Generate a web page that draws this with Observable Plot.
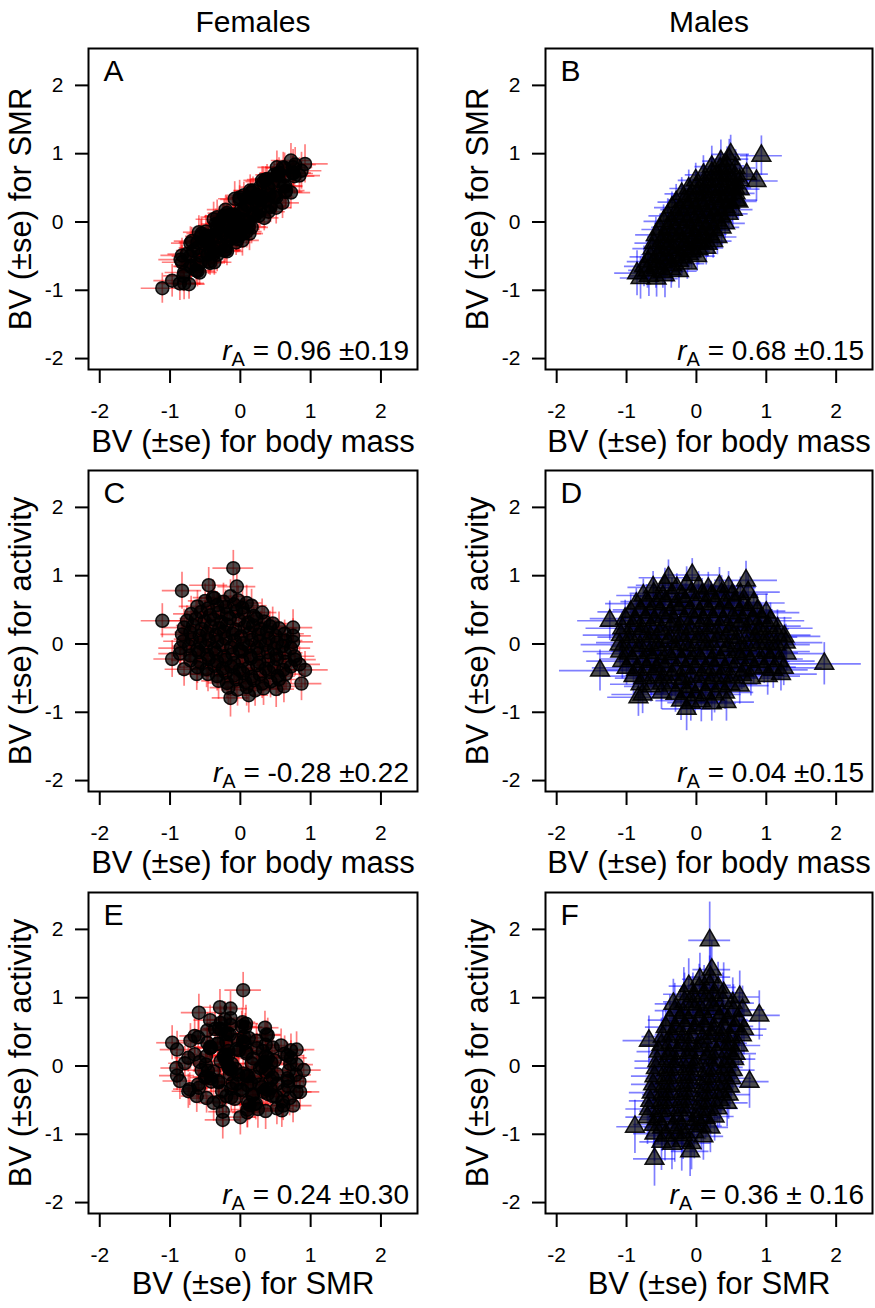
<!DOCTYPE html>
<html><head><meta charset="utf-8">
<script src="https://cdn.jsdelivr.net/npm/d3@7"></script>
<script src="https://cdn.jsdelivr.net/npm/@observablehq/plot@0.6"></script>
<style>
html,body{margin:0;padding:0;background:#fff;}
#wrap{position:relative;width:875px;height:1308px;overflow:hidden;background:#fff;}
#wrap svg{position:absolute;overflow:visible;}
</style></head><body><div id="wrap"></div>
<script>
// ---------- axis ticks & texts ----------
const xTicks = [-2, -1, 0, 1, 2];
const yTicks = [-2, -1, 0, 1, 2];
const tickLabels = ["-2", "-1", "0", "1", "2"];
const columnTitles = ["Females", "Males"];
const panelLetters = ["A", "B", "C", "D", "E", "F"];
const xTitles = ["BV (±se) for body mass", "BV (±se) for body mass", "BV (±se) for body mass", "BV (±se) for body mass", "BV (±se) for SMR", "BV (±se) for SMR"];
const yTitles = ["BV (±se) for SMR", "BV (±se) for SMR", "BV (±se) for activity", "BV (±se) for activity", "BV (±se) for activity", "BV (±se) for activity"];
const rAValues = ["= 0.96 ±0.19", "= 0.68 ±0.15", "= -0.28 ±0.22", "= 0.04 ±0.15", "= 0.24 ±0.30", "= 0.36 ± 0.16"];

// ---------- Females: breeding values (same individuals in A, C, E) ----------
const femMass = [
-0.50,-0.37,-0.24,-0.14,-0.03,0.09,
-0.61,-0.46,-0.33,-0.21,-0.09,0.03,0.16,
-0.70,-0.56,-0.43,-0.31,-0.19,-0.06,0.05,0.19,0.31,
-0.76,-0.63,-0.51,-0.38,-0.27,-0.15,-0.02,0.11,0.23,0.34,0.46,
-0.80,-0.67,-0.55,-0.42,-0.30,-0.19,-0.07,0.06,0.18,0.29,0.42,0.55,
-0.83,-0.71,-0.58,-0.47,-0.35,-0.23,-0.11,0.01,0.13,0.26,0.38,0.50,0.63,
-0.81,-0.69,-0.57,-0.45,-0.33,-0.21,-0.08,0.04,0.16,0.28,0.40,0.52,0.64,0.75,
-0.85,-0.73,-0.61,-0.49,-0.37,-0.25,-0.13,-0.01,0.12,0.24,0.36,0.48,0.60,0.72,
-0.86,-0.71,-0.59,-0.47,-0.35,-0.23,-0.11,0.02,0.14,0.26,0.39,0.51,0.63,0.77,
-0.71,-0.57,-0.45,-0.33,-0.21,-0.09,0.03,0.15,0.27,0.40,0.52,0.64,0.78,
-0.61,-0.48,-0.37,-0.25,-0.13,-0.01,0.11,0.24,0.36,0.48,0.61,0.72,
-0.46,-0.33,-0.21,-0.09,0.04,0.16,0.28,0.41,0.53,0.65,
-0.31,-0.19,-0.06,0.07,0.19,0.31,0.43,0.55,
-0.17,-0.04,0.09,0.21,0.33,
-1.11,-0.83,-0.45,-0.10,-0.97,-0.80,-0.62,-0.14,0.12,0.87,0.92,0.75,0.62,0.75,-0.39,-0.05,0.51,0.84];
const femSMR = [
-0.28,-0.43,0.08,-0.14,0.03,-0.14,
-0.30,-0.47,0.07,-0.36,0.02,-0.27,0.35,
-0.65,-0.21,-0.60,-0.15,0.05,-0.18,0.39,0.12,0.37,
-0.47,-0.71,-0.32,0.04,-0.33,-0.04,-0.20,0.36,0.23,0.06,0.58,
-0.90,-0.42,-0.17,-0.43,-0.02,-0.43,0.08,-0.05,0.46,0.32,0.24,0.72,
-0.49,-0.65,-0.74,-0.21,-0.23,0.09,-0.23,0.18,-0.17,0.36,0.63,0.39,0.67,
-0.79,-0.28,-0.49,-0.58,-0.12,-0.21,0.34,-0.17,0.36,0.16,0.49,0.80,0.44,0.71,
-0.55,-0.91,-0.38,-0.14,-0.46,-0.17,-0.14,0.36,-0.07,0.40,0.31,0.69,0.28,0.90,
-0.90,-0.50,-0.15,-0.48,-0.03,-0.42,0.11,0.04,0.46,0.09,0.52,0.21,0.79,0.67,
-0.31,-0.60,-0.31,-0.05,-0.41,0.10,-0.11,0.43,0.27,0.15,0.68,0.53,0.84,
-0.72,-0.26,-0.59,0.03,-0.13,0.33,0.00,0.31,0.62,0.37,0.80,0.43,
-0.20,-0.48,0.18,-0.13,0.17,-0.08,0.51,0.39,0.70,0.46,
-0.38,0.13,-0.30,0.20,0.11,0.61,0.22,0.60,
0.10,-0.25,0.25,0.10,0.59,
-0.97,-0.59,-0.29,0.04,-0.86,-0.74,-0.62,-0.25,0.00,0.75,0.85,0.80,0.52,0.72,-0.22,-0.14,0.36,0.68];
const femAct = [
0.63,0.67,0.62,0.70,0.64,0.60,
0.55,0.52,0.57,0.54,0.58,0.53,0.56,
0.44,0.47,0.42,0.46,0.43,0.48,0.45,0.41,0.46,
0.34,0.37,0.33,0.36,0.32,0.38,0.35,0.31,0.37,0.33,0.30,
0.24,0.27,0.22,0.26,0.23,0.28,0.21,0.25,0.27,0.22,0.26,0.23,
0.14,0.17,0.12,0.16,0.13,0.18,0.15,0.11,0.16,0.14,0.18,0.12,0.15,
0.04,0.07,0.02,0.06,0.03,0.08,0.05,0.01,0.06,0.04,0.08,0.02,0.05,0.03,
-0.06,-0.03,-0.08,-0.04,-0.07,-0.02,-0.05,-0.09,-0.04,-0.06,-0.01,-0.07,-0.03,-0.06,
-0.14,-0.17,-0.12,-0.16,-0.13,-0.18,-0.15,-0.11,-0.17,-0.14,-0.12,-0.16,-0.13,-0.18,
-0.24,-0.27,-0.22,-0.26,-0.23,-0.28,-0.25,-0.21,-0.27,-0.24,-0.22,-0.26,-0.23,
-0.34,-0.37,-0.32,-0.36,-0.33,-0.38,-0.35,-0.31,-0.36,-0.34,-0.38,-0.33,
-0.44,-0.47,-0.42,-0.46,-0.43,-0.48,-0.45,-0.41,-0.47,-0.44,
-0.54,-0.57,-0.52,-0.56,-0.53,-0.58,-0.55,-0.52,
-0.64,-0.67,-0.63,-0.68,-0.65,
0.34,0.78,0.86,1.11,-0.22,-0.37,-0.44,-0.79,-0.75,-0.58,-0.38,0.24,-0.62,0.12,0.68,0.84,-0.66,-0.30];
const femMassSE = [
.24,.21,.27,.19,.25,.22,
.26,.20,.23,.28,.18,.24,.22,
.25,.22,.19,.27,.23,.20,.26,.24,.21,
.27,.23,.20,.25,.22,.28,.19,.24,.26,.21,.23,
.29,.24,.21,.26,.19,.23,.25,.20,.27,.22,.24,.26,
.30,.22,.25,.19,.24,.27,.21,.23,.20,.26,.22,.25,.28,
.28,.25,.21,.24,.27,.19,.23,.26,.20,.24,.22,.27,.25,.29,
.31,.23,.26,.20,.24,.22,.27,.19,.25,.21,.23,.26,.24,.28,
.30,.26,.22,.25,.20,.24,.21,.27,.23,.19,.25,.22,.26,.29,
.27,.24,.21,.26,.23,.20,.25,.22,.27,.24,.21,.25,.30,
.26,.22,.25,.20,.24,.27,.21,.23,.26,.22,.25,.28,
.25,.21,.26,.23,.20,.24,.27,.22,.25,.27,
.24,.27,.21,.25,.22,.26,.23,.26,
.26,.23,.27,.22,.25,
.30,.28,.27,.29,.26,.27,.25,.26,.28,.29,.33,.28,.27,.26,.28,.27,.26,.30];
const femSMRSE = [
.20,.23,.18,.22,.19,.24,
.22,.19,.25,.18,.21,.23,.20,
.21,.24,.18,.22,.20,.25,.19,.23,.21,
.23,.19,.22,.25,.18,.21,.24,.20,.22,.19,.23,
.24,.20,.22,.18,.25,.21,.19,.23,.20,.24,.21,.22,
.25,.21,.19,.23,.20,.24,.18,.22,.25,.19,.21,.23,.24,
.23,.20,.24,.19,.22,.18,.25,.21,.20,.23,.19,.24,.22,.25,
.26,.22,.19,.24,.21,.23,.18,.25,.20,.22,.24,.19,.23,.25,
.25,.21,.24,.19,.22,.20,.25,.18,.23,.21,.19,.24,.22,.26,
.24,.20,.23,.21,.19,.25,.22,.20,.24,.18,.23,.21,.25,
.23,.21,.19,.24,.22,.20,.25,.21,.19,.23,.22,.24,
.22,.25,.20,.23,.19,.24,.21,.22,.20,.24,
.21,.24,.19,.22,.25,.20,.23,.22,
.23,.20,.24,.21,.22,
.22,.25,.24,.26,.24,.23,.22,.25,.23,.27,.28,.26,.24,.23,.25,.24,.23,.26];
const femActSE = [
.25,.22,.27,.24,.21,.26,
.23,.26,.20,.25,.22,.27,.24,
.26,.21,.24,.27,.19,.23,.25,.22,.20,
.22,.25,.27,.20,.24,.26,.21,.23,.25,.19,.24,
.27,.21,.24,.26,.22,.19,.25,.23,.20,.26,.22,.24,
.24,.26,.21,.23,.27,.20,.24,.22,.25,.21,.26,.23,.20,
.25,.22,.27,.20,.24,.26,.21,.23,.19,.25,.22,.27,.24,.21,
.26,.23,.20,.25,.22,.27,.19,.24,.21,.26,.23,.20,.25,.22,
.22,.27,.24,.19,.26,.21,.25,.23,.20,.24,.27,.22,.25,.23,
.25,.21,.26,.23,.20,.24,.27,.22,.25,.19,.23,.26,.24,
.24,.27,.22,.25,.20,.26,.23,.21,.25,.22,.24,.26,
.26,.22,.25,.21,.27,.23,.20,.24,.26,.23,
.27,.23,.25,.21,.26,.22,.24,.25,
.26,.24,.28,.23,.25,
.25,.27,.26,.26,.27,.25,.24,.28,.26,.25,.27,.26,.24,.25,.26,.25,.27,.26];

// ---------- Males, panel B: body mass (x) vs SMR (y) ----------
const maleBMass = [
-0.68,-0.57,-0.45,
-0.70,-0.58,-0.48,-0.36,-0.25,
-0.69,-0.57,-0.47,-0.35,-0.25,-0.13,
-0.66,-0.55,-0.43,-0.33,-0.21,-0.11,0.01,
-0.63,-0.51,-0.41,-0.29,-0.19,-0.07,0.03,0.14,
-0.61,-0.50,-0.38,-0.28,-0.16,-0.06,0.05,0.16,0.24,
-0.58,-0.46,-0.36,-0.24,-0.14,-0.02,0.08,0.19,0.30,
-0.52,-0.41,-0.29,-0.19,-0.07,0.03,0.14,0.25,0.36,
-0.47,-0.35,-0.25,-0.13,-0.03,0.09,0.19,0.30,0.41,
-0.41,-0.30,-0.18,-0.08,0.04,0.14,0.26,0.36,0.46,
-0.35,-0.23,-0.13,-0.01,0.09,0.21,0.31,0.42,0.52,
-0.29,-0.17,-0.07,0.05,0.15,0.27,0.37,0.48,0.57,
-0.21,-0.09,0.01,0.13,0.23,0.35,0.45,0.56,
-0.11,0.00,0.12,0.22,0.34,0.44,0.55,0.62,
-0.01,0.11,0.21,0.33,0.43,0.54,0.62,
0.10,0.22,0.32,0.44,0.55,
0.22,0.34,0.44,0.56,
0.35,0.47,
0.93,0.86,0.49,-0.85,-0.80,0.72,-0.75,0.60];
const maleBSMR = [
-0.79,-0.83,-0.78,
-0.71,-0.68,-0.73,-0.69,-0.72,
-0.58,-0.62,-0.59,-0.63,-0.57,-0.61,
-0.51,-0.48,-0.53,-0.49,-0.52,-0.47,-0.50,
-0.39,-0.42,-0.38,-0.41,-0.37,-0.43,-0.40,-0.38,
-0.31,-0.28,-0.32,-0.29,-0.33,-0.27,-0.30,-0.32,-0.28,
-0.19,-0.22,-0.18,-0.21,-0.17,-0.23,-0.20,-0.18,-0.22,
-0.11,-0.08,-0.12,-0.09,-0.13,-0.07,-0.10,-0.12,-0.08,
0.01,-0.02,0.03,-0.01,0.02,-0.03,0.00,0.02,-0.02,
0.09,0.12,0.08,0.11,0.07,0.13,0.10,0.08,0.12,
0.21,0.18,0.22,0.19,0.23,0.17,0.20,0.22,0.18,
0.29,0.32,0.28,0.31,0.27,0.33,0.30,0.28,0.32,
0.41,0.38,0.42,0.39,0.43,0.37,0.40,0.42,
0.49,0.52,0.48,0.51,0.47,0.53,0.50,0.48,
0.61,0.58,0.62,0.59,0.63,0.57,0.61,
0.69,0.72,0.68,0.71,0.67,
0.81,0.78,0.82,0.79,
0.89,0.92,
0.97,0.60,0.99,-0.75,-0.82,0.70,-0.65,0.30];
const maleBMassSE = [
.28,.31,.26,
.27,.24,.29,.22,.26,
.30,.25,.23,.27,.21,.25,
.29,.24,.27,.22,.25,.20,.26,
.28,.23,.26,.21,.24,.27,.22,.25,
.27,.22,.25,.28,.21,.24,.26,.23,.27,
.29,.24,.21,.26,.23,.27,.22,.25,.28,
.26,.23,.27,.20,.25,.22,.28,.24,.26,
.28,.25,.22,.26,.21,.24,.27,.23,.29,
.27,.22,.25,.28,.23,.20,.26,.24,.28,
.25,.28,.22,.24,.27,.21,.25,.23,.29,
.26,.23,.27,.21,.25,.22,.28,.24,.30,
.24,.27,.22,.25,.21,.26,.23,.28,
.27,.23,.26,.22,.25,.28,.24,.29,
.25,.22,.27,.24,.26,.23,.30,
.26,.23,.28,.25,.27,
.24,.27,.25,.29,
.26,.28,
.30,.31,.27,.32,.29,.31,.28,.27];
const maleBSMRSE = [
.30,.27,.33,
.26,.29,.24,.28,.25,
.24,.28,.22,.26,.25,.23,
.27,.23,.25,.21,.26,.24,.22,
.25,.22,.27,.24,.20,.26,.23,.25,
.23,.26,.21,.25,.22,.27,.24,.20,.25,
.26,.22,.25,.20,.24,.27,.21,.23,.26,
.22,.25,.23,.27,.21,.24,.26,.22,.25,
.24,.21,.26,.23,.25,.20,.24,.27,.23,
.25,.23,.20,.26,.22,.25,.21,.24,.26,
.23,.26,.24,.21,.25,.22,.27,.23,.25,
.26,.22,.25,.23,.20,.26,.24,.22,.27,
.24,.27,.22,.25,.23,.21,.26,.25,
.27,.23,.26,.24,.21,.25,.28,.24,
.25,.28,.23,.26,.24,.27,.25,
.28,.25,.27,.24,.29,
.30,.26,.28,.27,
.31,.29,
.29,.30,.28,.33,.31,.29,.30,.27];

// ---------- Males, panel D: body mass (x) vs activity (y) ----------
const maleDMass = [
-0.40,-0.06,0.71,
-0.62,-0.45,-0.28,-0.14,0.03,0.17,0.33,0.46,
-0.76,-0.61,-0.48,-0.35,-0.20,-0.07,0.08,0.21,0.36,0.51,0.63,0.74,
-0.86,-0.71,-0.58,-0.45,-0.30,-0.16,-0.03,0.12,0.27,0.40,0.54,0.67,0.82,
-0.94,-0.80,-0.67,-0.52,-0.38,-0.25,-0.10,0.04,0.17,0.32,0.46,0.61,0.74,0.87,1.00,
-1.02,-0.88,-0.73,-0.60,-0.47,-0.32,-0.18,-0.05,0.10,0.23,0.38,0.52,0.65,0.80,0.93,1.06,
-1.06,-0.91,-0.78,-0.65,-0.50,-0.36,-0.23,-0.08,0.06,0.19,0.34,0.48,0.61,0.76,0.90,1.03,1.16,
-1.08,-0.95,-0.80,-0.66,-0.53,-0.38,-0.24,-0.11,0.04,0.17,0.32,0.46,0.59,0.74,0.88,1.01,1.16,1.26,
-1.10,-0.96,-0.81,-0.68,-0.55,-0.40,-0.26,-0.13,0.02,0.15,0.30,0.45,0.58,0.72,0.87,1.00,1.14,1.28,
-1.09,-0.97,-0.82,-0.67,-0.54,-0.41,-0.27,-0.12,0.01,0.16,0.29,0.44,0.59,0.71,0.86,1.01,1.13,1.29,
-1.06,-0.92,-0.77,-0.64,-0.51,-0.36,-0.22,-0.09,0.06,0.21,0.34,0.47,0.62,0.77,0.90,1.05,1.18,
-1.00,-0.86,-0.71,-0.58,-0.45,-0.30,-0.16,-0.02,0.12,0.25,0.40,0.55,0.68,0.82,0.97,1.10,1.25,
-0.90,-0.76,-0.61,-0.48,-0.35,-0.20,-0.06,0.08,0.23,0.36,0.50,0.65,0.78,1.02,1.21,
-0.80,-0.65,-0.50,-0.36,-0.21,-0.08,0.07,0.20,0.35,0.48,0.62,
-0.77,-0.50,-0.30,-0.15,-0.02,0.13,0.26,0.41,
-0.22,-0.08,0.07,0.22,0.43,
1.83,-1.38,-1.24,-0.14,-0.83];
const maleDAct = [
0.97,1.01,0.93,
0.83,0.86,0.82,0.87,0.84,0.81,0.85,0.83,
0.71,0.74,0.70,0.73,0.69,0.75,0.72,0.70,0.74,0.71,0.73,0.76,
0.59,0.62,0.58,0.61,0.57,0.63,0.60,0.58,0.62,0.59,0.61,0.57,0.60,
0.47,0.50,0.46,0.49,0.45,0.51,0.48,0.46,0.50,0.47,0.49,0.45,0.50,0.48,0.46,
0.37,0.34,0.38,0.35,0.39,0.33,0.36,0.38,0.34,0.37,0.35,0.39,0.33,0.36,0.38,0.34,
0.23,0.26,0.22,0.25,0.21,0.27,0.24,0.22,0.26,0.23,0.25,0.21,0.27,0.24,0.22,0.26,0.23,
0.13,0.10,0.14,0.11,0.15,0.09,0.12,0.14,0.10,0.13,0.11,0.15,0.09,0.12,0.14,0.10,0.13,0.11,
-0.01,0.02,-0.03,0.01,-0.02,0.03,0.00,-0.02,0.02,-0.01,0.03,-0.03,0.01,-0.02,0.02,0.00,-0.01,0.02,
-0.11,-0.14,-0.10,-0.13,-0.09,-0.15,-0.12,-0.10,-0.14,-0.11,-0.13,-0.09,-0.12,-0.15,-0.10,-0.13,-0.11,-0.14,
-0.25,-0.22,-0.26,-0.23,-0.27,-0.21,-0.24,-0.26,-0.22,-0.25,-0.23,-0.27,-0.21,-0.24,-0.26,-0.22,-0.25,
-0.35,-0.38,-0.34,-0.37,-0.33,-0.39,-0.36,-0.34,-0.38,-0.35,-0.37,-0.33,-0.39,-0.36,-0.34,-0.38,-0.35,
-0.47,-0.50,-0.46,-0.49,-0.45,-0.51,-0.48,-0.46,-0.50,-0.47,-0.49,-0.45,-0.50,-0.47,-0.44,
-0.59,-0.62,-0.58,-0.61,-0.57,-0.63,-0.60,-0.58,-0.62,-0.59,-0.61,
-0.74,-0.71,-0.73,-0.70,-0.75,-0.72,-0.74,-0.71,
-0.83,-0.86,-0.84,-0.87,-0.85,
-0.29,-0.39,0.34,-0.95,-0.78];
const maleDMassSE = [
.42,.38,.45,
.36,.41,.33,.39,.35,.44,.37,.40,
.38,.34,.42,.36,.31,.39,.35,.43,.37,.33,.40,.46,
.44,.37,.32,.40,.35,.38,.30,.36,.42,.34,.39,.37,.45,
.47,.39,.35,.41,.33,.37,.31,.36,.40,.34,.38,.43,.36,.41,.48,
.50,.42,.37,.33,.39,.35,.30,.38,.34,.40,.36,.32,.41,.37,.44,.49,
.52,.45,.38,.34,.40,.36,.31,.37,.33,.39,.35,.42,.36,.40,.43,.47,.51,
.54,.46,.40,.35,.38,.33,.36,.30,.34,.37,.32,.39,.35,.41,.38,.44,.48,.52,
.55,.47,.41,.36,.39,.34,.31,.37,.33,.36,.30,.38,.34,.40,.37,.43,.49,.53,
.53,.45,.39,.35,.40,.33,.37,.32,.35,.31,.38,.34,.39,.36,.42,.45,.50,.54,
.51,.44,.38,.34,.39,.35,.31,.36,.33,.37,.32,.40,.36,.41,.44,.48,.52,
.49,.42,.37,.33,.38,.34,.30,.36,.32,.39,.35,.37,.40,.43,.46,.50,.55,
.45,.40,.35,.38,.33,.36,.31,.37,.34,.39,.36,.41,.44,.47,.52,
.43,.38,.34,.37,.32,.36,.33,.38,.35,.40,.42,
.44,.39,.35,.33,.37,.34,.38,.41,
.36,.33,.38,.35,.40,
.53,.58,.46,.35,.44];
const maleDActSE = [
.26,.24,.28,
.23,.25,.21,.26,.22,.24,.27,.23,
.24,.21,.26,.23,.25,.20,.24,.22,.26,.21,.25,.27,
.22,.25,.20,.24,.21,.26,.23,.19,.24,.22,.25,.21,.26,
.25,.21,.24,.20,.23,.26,.22,.24,.19,.23,.21,.25,.22,.24,.27,
.27,.22,.25,.21,.24,.20,.23,.26,.21,.24,.22,.19,.25,.23,.21,.26,
.24,.26,.21,.24,.20,.25,.22,.23,.19,.24,.21,.26,.22,.20,.25,.23,.27,
.26,.23,.25,.20,.24,.22,.19,.23,.21,.25,.20,.24,.22,.26,.21,.23,.25,.28,
.25,.22,.24,.21,.23,.19,.25,.22,.20,.24,.21,.23,.19,.25,.22,.24,.26,.27,
.27,.24,.21,.25,.22,.20,.24,.21,.23,.19,.25,.22,.24,.20,.23,.25,.22,.26,
.26,.23,.25,.21,.24,.22,.20,.24,.21,.23,.19,.25,.22,.24,.21,.26,.28,
.25,.22,.24,.20,.23,.25,.21,.22,.24,.20,.23,.21,.25,.22,.24,.27,.26,
.27,.24,.21,.25,.22,.24,.20,.23,.25,.21,.24,.22,.26,.28,.25,
.26,.23,.25,.22,.24,.21,.25,.23,.26,.22,.27,
.28,.25,.27,.24,.26,.23,.27,.25,
.29,.27,.30,.26,.28,
.31,.30,.29,.32,.28];

// ---------- Males, panel F: SMR (x) vs activity (y) ----------
const maleFSMR = [
0.19,
0.22,
0.05,0.20,
-0.11,0.04,0.19,0.31,
-0.18,-0.05,0.11,0.24,0.39,0.62,
-0.33,-0.17,-0.05,0.11,0.23,0.38,0.52,
-0.31,-0.19,-0.03,0.09,0.25,0.37,0.53,0.66,
-0.38,-0.23,-0.11,0.05,0.17,0.33,0.45,0.61,0.90,
-0.44,-0.29,-0.17,-0.01,0.11,0.27,0.39,0.55,0.68,
-0.48,-0.35,-0.19,-0.07,0.09,0.21,0.37,0.49,0.65,
-0.68,-0.50,-0.37,-0.21,-0.09,0.07,0.19,0.35,0.47,0.60,
-0.54,-0.39,-0.27,-0.11,0.01,0.17,0.29,0.45,0.56,
-0.56,-0.41,-0.29,-0.13,-0.01,0.15,0.27,0.43,0.54,
-0.58,-0.43,-0.31,-0.15,-0.03,0.13,0.25,0.41,0.52,
-0.60,-0.45,-0.33,-0.17,-0.05,0.11,0.23,0.39,0.50,
-0.62,-0.47,-0.35,-0.19,-0.07,0.09,0.21,0.37,0.48,0.76,
-0.64,-0.49,-0.37,-0.21,-0.09,0.07,0.19,0.35,0.46,
-0.66,-0.51,-0.39,-0.23,-0.11,0.05,0.17,0.33,0.44,
-0.68,-0.53,-0.41,-0.25,-0.13,0.03,0.15,0.30,
-0.70,-0.55,-0.43,-0.27,-0.15,0.01,0.13,0.26,
-0.88,-0.61,-0.49,-0.33,-0.21,-0.05,0.07,0.20,
-0.60,-0.45,-0.31,-0.19,-0.03,0.10,
-0.50,-0.35,-0.21,-0.07,
-0.60,-0.09];
const maleFAct = [
1.84,
1.41,
1.27,1.30,
1.17,1.14,1.18,1.15,
1.05,1.02,1.06,1.03,1.07,1.01,
0.91,0.94,0.90,0.93,0.89,0.95,0.92,
0.81,0.78,0.82,0.79,0.83,0.77,0.80,0.82,
0.67,0.70,0.66,0.69,0.65,0.71,0.68,0.66,0.74,
0.57,0.54,0.58,0.55,0.59,0.53,0.56,0.58,0.54,
0.43,0.46,0.42,0.45,0.41,0.47,0.44,0.42,0.45,
0.37,0.31,0.34,0.30,0.33,0.29,0.35,0.31,0.33,0.30,
0.21,0.18,0.22,0.19,0.23,0.17,0.20,0.22,0.18,
0.07,0.10,0.06,0.09,0.05,0.11,0.08,0.06,0.10,
-0.03,-0.06,-0.02,-0.05,-0.01,-0.07,-0.04,-0.02,-0.06,
-0.15,-0.18,-0.14,-0.17,-0.13,-0.19,-0.16,-0.14,-0.18,
-0.27,-0.30,-0.26,-0.29,-0.25,-0.31,-0.28,-0.26,-0.30,-0.23,
-0.39,-0.42,-0.38,-0.41,-0.37,-0.43,-0.40,-0.38,-0.42,
-0.51,-0.54,-0.50,-0.53,-0.49,-0.55,-0.52,-0.50,-0.54,
-0.63,-0.66,-0.62,-0.65,-0.61,-0.67,-0.64,-0.62,
-0.75,-0.78,-0.74,-0.77,-0.73,-0.79,-0.76,-0.74,
-0.89,-0.86,-0.90,-0.87,-0.91,-0.85,-0.88,-0.90,
-0.99,-1.02,-0.98,-1.01,-0.97,-1.03,
-1.11,-1.14,-1.10,-1.13,
-1.36,-1.25];
const maleFSMRSE = [
.30,
.27,
.25,.29,
.28,.24,.31,.26,
.29,.23,.27,.25,.30,.28,
.26,.30,.24,.28,.22,.27,.31,
.28,.23,.26,.30,.24,.27,.25,.32,
.31,.25,.28,.23,.27,.24,.29,.26,.30,
.29,.26,.23,.28,.25,.30,.24,.27,.33,
.30,.24,.27,.25,.29,.23,.26,.28,.31,
.37,.28,.25,.30,.23,.27,.24,.29,.26,.32,
.31,.26,.29,.24,.27,.22,.28,.25,.30,
.32,.27,.24,.29,.25,.28,.23,.26,.31,
.30,.25,.28,.23,.27,.24,.29,.26,.32,
.33,.27,.24,.28,.22,.26,.30,.25,.29,
.31,.26,.29,.24,.27,.23,.28,.25,.30,.28,
.32,.28,.25,.29,.24,.27,.23,.26,.31,
.30,.26,.29,.24,.28,.25,.27,.23,.30,
.33,.28,.25,.29,.24,.27,.26,.30,
.31,.27,.24,.28,.25,.29,.23,.28,
.26,.29,.25,.28,.24,.27,.30,.26,
.30,.26,.28,.24,.27,.29,
.31,.27,.25,.28,
.30,.27];
const maleFActSE = [
.56,
.42,
.38,.44,
.40,.35,.43,.37,
.39,.34,.41,.36,.44,.38,
.36,.42,.33,.39,.35,.41,.37,
.40,.34,.38,.32,.41,.36,.39,.35,
.37,.42,.33,.39,.35,.40,.31,.38,.36,
.35,.39,.32,.37,.34,.41,.30,.36,.38,
.38,.33,.40,.31,.36,.34,.39,.32,.37,
.36,.39,.32,.37,.30,.35,.33,.38,.31,.36,
.34,.37,.31,.36,.33,.30,.35,.32,.38,
.37,.32,.35,.30,.34,.31,.36,.33,.35,
.33,.36,.31,.34,.29,.35,.32,.37,.34,
.36,.31,.34,.30,.35,.32,.29,.36,.33,
.35,.38,.32,.36,.31,.34,.30,.37,.33,.39,
.37,.33,.36,.31,.35,.32,.38,.34,.36,
.39,.35,.32,.37,.33,.36,.31,.38,.35,
.38,.34,.37,.32,.36,.33,.39,.35,
.40,.36,.33,.38,.34,.37,.32,.36,
.39,.42,.35,.38,.34,.40,.36,.37,
.41,.37,.43,.36,.39,.35,
.42,.38,.44,.39,
.40,.37];

// ---------- build panels ----------
function rowsOf(xs, ys, sxs, sys) {
  return xs.map((x, i) => ({x, y: ys[i], sx: sxs[i], sy: sys[i]}));
}
const panelData = [
  rowsOf(femMass, femSMR, femMassSE, femSMRSE),
  rowsOf(maleBMass, maleBSMR, maleBMassSE, maleBSMRSE),
  rowsOf(femMass, femAct, femMassSE, femActSE),
  rowsOf(maleDMass, maleDAct, maleDMassSE, maleDActSE),
  rowsOf(femSMR, femAct, femSMRSE, femActSE),
  rowsOf(maleFSMR, maleFAct, maleFSMRSE, maleFActSE)
];

const FONT = "'Liberation Sans', Arial, Helvetica, sans-serif";
const wrap = document.getElementById("wrap");
const frameH = 321, mTop = 48, mBottom = 100;
const xTitleDy = [73, 72, 71];

panelData.forEach((rows, i) => {
  const col = i % 2, row = Math.floor(i / 2);
  const female = col === 0;
  const W = female ? 437 : 418;
  const mRight = female ? 20 : 3;
  const H = mTop + frameH + mBottom;
  const barColor = female ? "#ff0000" : "#0000ff";
  const marks = [
    Plot.ruleY(rows, {y: "y", x1: d => d.x - d.sx, x2: d => d.x + d.sx, stroke: barColor, strokeOpacity: 0.5, strokeWidth: 1.7}),
    Plot.ruleX(rows, {x: "x", y1: d => d.y - d.sy, y2: d => d.y + d.sy, stroke: barColor, strokeOpacity: 0.5, strokeWidth: 1.7}),
    Plot.dot(rows, {x: "x", y: "y", r: female ? 6.5 : 7, symbol: female ? "circle" : "triangle",
      fill: "black", fillOpacity: 0.7, stroke: "black", strokeOpacity: 0.9, strokeWidth: 1.5}),
    Plot.frame({stroke: "black", strokeWidth: 2}),
    // tick marks (labels drawn below as text marks)
    Plot.axisX(xTicks, {tickSize: 14, strokeWidth: 2, label: null, tickFormat: () => ""}),
    Plot.axisY(yTicks, {tickSize: 13, strokeWidth: 2, label: null, tickFormat: () => ""}),
    Plot.text(xTicks, {x: d => d, text: d => tickLabels[xTicks.indexOf(d)], frameAnchor: "bottom", dy: 34, lineAnchor: "top", textAnchor: "middle", fontSize: 21, fill: "black"}),
    Plot.text(yTicks, {y: d => d, text: d => tickLabels[yTicks.indexOf(d)], frameAnchor: "left", dx: -25, lineAnchor: "middle", textAnchor: "end", fontSize: 21, fill: "black"}),
    Plot.text([panelLetters[i]], {text: d => d, frameAnchor: "top-left", dx: 15, dy: 11, lineAnchor: "top", textAnchor: "start", fontSize: 30, fill: "black"}),
    Plot.text([xTitles[i]], {text: d => d, frameAnchor: "bottom", dy: xTitleDy[row], lineAnchor: "middle", textAnchor: "middle", fontSize: 31, fill: "black"}),
    Plot.text([yTitles[i]], {text: d => d, frameAnchor: "left", dx: -80, rotate: -90, lineAnchor: "top", textAnchor: "middle", fontSize: 31, fill: "black"})
  ];
  if (row === 0) {
    marks.push(Plot.text([columnTitles[col]], {text: d => d, frameAnchor: "top", dy: -26, lineAnchor: "middle", textAnchor: "middle", fontSize: 30, fill: "black"}));
  }
  const chart = Plot.plot({
    width: W, height: H,
    marginLeft: 88, marginRight: mRight, marginTop: mTop, marginBottom: mBottom,
    style: {background: "transparent", overflow: "visible", fontFamily: FONT, fontSize: "21px", color: "black"},
    x: {domain: [-2.16, 2.52], label: null},
    y: {domain: [-2.16, 2.54], label: null},
    marks
  });
  chart.style.left = (female ? 0 : 457) + "px";
  chart.style.top = (row * 422) + "px";
  // r_A annotation (italic r with subscript A)
  const t = d3.select(chart).append("text")
    .attr("x", W - mRight - 8).attr("y", mTop + frameH - 9)
    .attr("text-anchor", "end").attr("font-size", 28).attr("fill", "black")
    .attr("font-family", FONT);
  t.append("tspan").attr("font-style", "italic").text("r");
  t.append("tspan").attr("font-size", 20).attr("dy", 6).text("A");
  t.append("tspan").attr("dy", -6).text(" " + rAValues[i]);
  wrap.appendChild(chart);
});
</script>
</body></html>
